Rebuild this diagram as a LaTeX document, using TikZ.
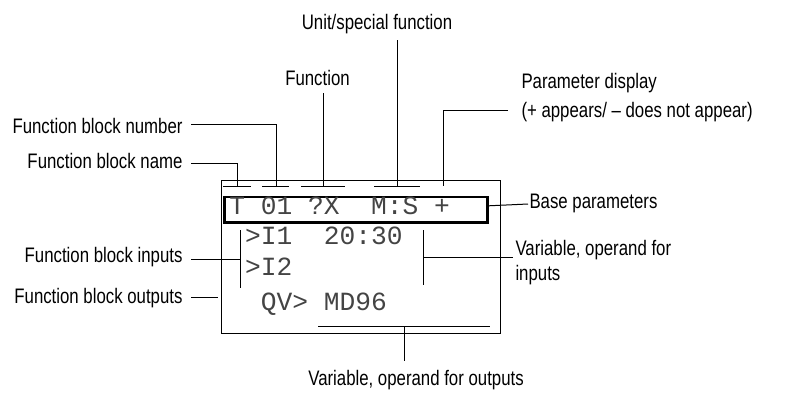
\documentclass[tikz,border=0pt]{standalone}
\usepackage{fontspec}
\setmainfont{Liberation Sans}[FakeStretch=0.8]
\newfontfamily\lcdfont{Liberation Mono}
\usetikzlibrary{calc}
\definecolor{lcdgray}{HTML}{444444}
\tikzset{
  lbl/.style={inner sep=0pt, font=\fontsize{21}{25}\selectfont},
  lcdtext/.style={inner sep=0pt, font=\lcdfont\fontsize{26.25}{30}\selectfont, text=lcdgray},
  frame/.style={draw, inner sep=0pt, anchor=north west},
}
\begin{document}
\begin{tikzpicture}[x=1pt,y=-1pt, line width=1pt]
\useasboundingbox (0,0) rectangle (795,392);
% display
\node[frame, minimum width=279pt, minimum height=153pt] (disp) at (221,180) {};
\node[frame, line width=2.7pt, minimum width=263pt, minimum height=25.5pt] (basebox) at (223,195.7) {};
% LCD rows
\node[lcdtext, anchor=base west] (r1) at (228.8,214) {T~01~?X~~M:S~+};
\node[lcdtext, anchor=base west] (r2) at (228.8,244) {~>I1~~20:30};
\node[lcdtext, anchor=base west] (r3) at (228.8,275) {~>I2};
\node[lcdtext, anchor=base west] (r4) at (228.8,310) {~~QV>~MD96};
% underlines above characters
\draw (223,186) -- (251,186);
\draw (262,186) -- (289,186);
\draw (301,186) -- (345,186);
\draw (374,186) -- (420,186);
\coordinate (tName) at (237,186);
\coordinate (tNum) at (276,186);
\coordinate (tFun) at (323,186);
\coordinate (tUnit) at (397,186);
\coordinate (tPar) at (443,186);
% labels
\node[lbl, anchor=base] (lUnit) at (377,29) {Unit/special function};
\node[lbl, anchor=base] (lFun) at (317.5,85) {Function};
\node[lbl, anchor=base east] (lNum) at (183,133) {Function block number};
\node[lbl, anchor=base east] (lName) at (183,168) {Function block name};
\node[lbl, anchor=base east] (lIn) at (183,262) {Function block inputs};
\node[lbl, anchor=base east] (lOut) at (183,303) {Function block outputs};
\node[lbl, anchor=base west] (lPar1) at (521,88) {Parameter display};
\node[lbl, anchor=base west] (lPar2) at (521,117) {(+ appears/ – does not appear)};
\node[lbl, anchor=base west] (lBase) at (529,208) {Base parameters};
\node[lbl, anchor=base west] (lVar1) at (515,255) {Variable, operand for};
\node[lbl, anchor=base west] (lVar2) at (515,280) {inputs};
\node[lbl, anchor=base] (lVout) at (416,385) {Variable, operand for outputs};
% leaders
\draw ($(lUnit.base)+(20,11)$) -- (tUnit);
\draw ($(lFun.base)+(5.5,8)$) -- (tFun);
\draw ($(lNum.base east)+(8,-8.5)$) -| (tNum);
\draw ($(lName.base east)+(8,-5)$) -| (tName);
\draw ($(lPar2.base west)+(-13,-7)$) -| (tPar);
\draw ($(basebox.east)+(0,-4)$) -- ($(lBase.base west)+(-1,-4)$);
% variable, operand for inputs
\coordinate (vinTop) at (423,230);
\coordinate (vinBot) at (423,285);
\coordinate (vinMid) at (423,257);
\draw (vinTop) -- (vinBot);
\draw (vinMid) -- ($(lVar1.base west)+(-2,2)$);
% function block inputs
\coordinate (finTop) at (240.5,230);
\coordinate (finBot) at (240.5,287.5);
\draw (finTop) -- (finBot);
\coordinate (inStart) at ($(lIn.base east)+(8,-3)$);
\draw (inStart) -- (inStart -| finTop);
% function block outputs
\coordinate (outStart) at ($(lOut.base east)+(8,-6)$);
\draw (outStart) -- ++(26.5,0);
% variable, operand for outputs
\draw (318,326) -- (490,326);
\coordinate (tVout) at (404,326);
\draw (tVout) -- ($(lVout.base)+(-12,-24)$);
\end{tikzpicture}
\end{document}
